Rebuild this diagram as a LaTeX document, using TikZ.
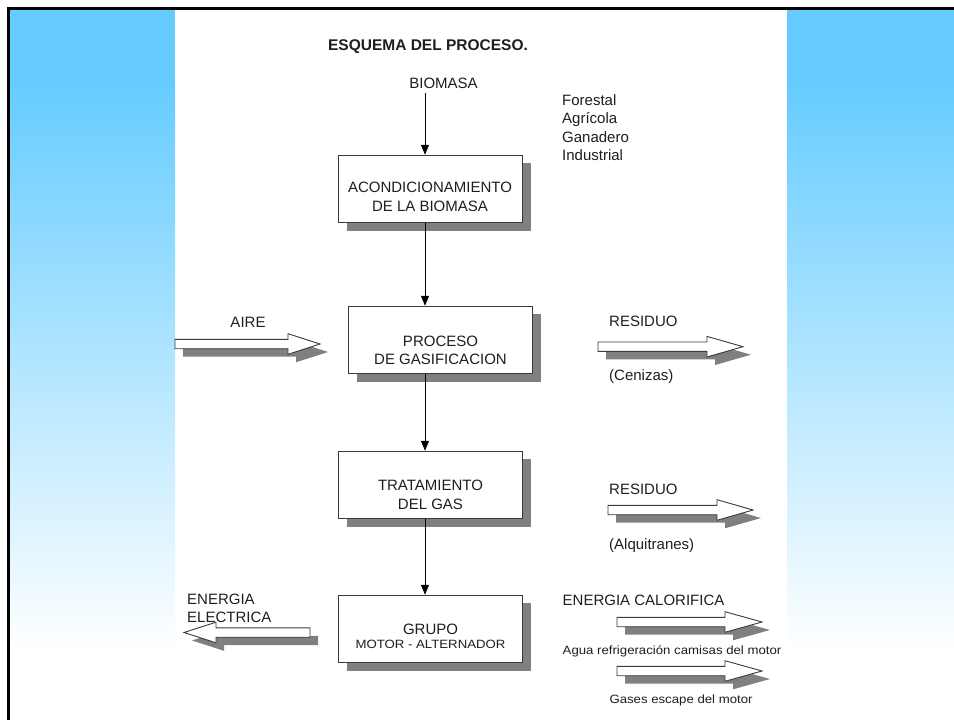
\documentclass[tikz,border=0pt]{standalone}
\usepackage{fontspec}
\setmainfont{Liberation Sans}
\newfontfamily\smallsf{Liberation Sans}[FakeStretch=1.1]
\usetikzlibrary{arrows.meta,shadows}
\definecolor{skyb}{HTML}{66CCFF}
\definecolor{shadowgray}{HTML}{808080}
\definecolor{edgegray}{HTML}{3A3A3A}
\definecolor{txt}{HTML}{1E1E1E}
\newcommand\blockpath[4]{(#1,#4-4.7) -- (#2,#4-4.7) -- (#2,#4-10.3) -- (#3,#4) -- (#2,#4+10.3) -- (#2,#4+4.7) -- (#1,#4+4.7) -- cycle}
\newcommand\blockarrow[4]{%
  \fill[blkshadow, shift={(8,8)}] \blockpath{#1}{#2}{#3}{#4};
  \draw[blkarrow] \blockpath{#1}{#2}{#3}{#4};}
\begin{document}
\begin{tikzpicture}[x=1pt,y=-1pt,
  procbox/.style={draw=edgegray, line width=1pt, fill=white, minimum width=184pt,
    minimum height=67.5pt, inner sep=0pt,
    drop shadow={shadow xshift=8pt, shadow yshift=-8pt, opacity=1, fill=shadowgray, draw=none}},
  lbl/.style={font=\fontsize{15}{18}\selectfont, text=txt, inner sep=0pt, anchor=base},
  lbll/.style={lbl, anchor=base west},
  sml/.style={font=\smallsf\fontsize{12}{14}\selectfont, text=txt, inner sep=0pt, anchor=base},
  smll/.style={sml, anchor=base west},
  conn/.style={draw=black, line width=0.9pt, -{Triangle[width=8pt,length=10pt]}},
  blkarrow/.style={draw=edgegray, line width=0.9pt, fill=white, line join=miter},
  blkshadow/.style={fill=shadowgray}
]
\useasboundingbox (0,0) rectangle (954,720);
% background side panels
\foreach \xa/\xb in {10/175, 787/954}{
  \fill[skyb] (\xa,9) rectangle (\xb,85);
  \shade[top color=skyb, bottom color=white] (\xa,85) rectangle (\xb,650.5);
}
% border
\draw[black, line width=2.5pt] (8.5,720) -- (8.5,8.5) -- (954,8.5);

% title and inputs
\node[lbl, font=\bfseries\fontsize{15.5}{18}\selectfont] (title) at (428,50.5) {ESQUEMA DEL PROCESO.};
\node[lbl] (bio) at (443.5,88.3) {BIOMASA};
\node[lbll] (f1) at (562,105) {Forestal};
\node[lbll] (f2) at (562,123.5) {Agrícola};
\node[lbll] (f3) at (562,142) {Ganadero};
\node[lbll] (f4) at (562,160.5) {Industrial};

% boxes
\node[procbox] (b1) at (430.5,189) {};
\node[procbox] (b2) at (440.5,340) {};
\node[procbox] (b3) at (430.5,485) {};
\node[procbox] (b4) at (430.5,629) {};

\node[lbl] (t1a) at (430,192.7) {ACONDICIONAMIENTO};
\node[lbl] (t1b) at (430,211) {DE LA BIOMASA};
\node[lbl] (t2a) at (440.5,346.7) {PROCESO};
\node[lbl] (t2b) at (440.5,364.3) {DE GASIFICACION};
\node[lbl] (t3a) at (430.5,490.7) {TRATAMIENTO};
\node[lbl] (t3b) at (430.5,509) {DEL GAS};
\node[lbl] (t4a) at (430.5,634) {GRUPO};
\node[sml] (t4b) at (430.5,648.3) {MOTOR - ALTERNADOR};

% connectors
\coordinate (ax) at (425,0);
\draw[conn, shorten <=4.5pt] (bio.south -| ax) -- (b1.north -| ax);
\draw[conn] (b1.south -| ax) -- (b2.north -| ax);
\draw[conn] (b2.south -| ax) -- (b3.north -| ax);
\draw[conn] (b3.south -| ax) -- (b4.north -| ax);

% block arrows
\blockarrow{175}{288}{320}{344}
\blockarrow{598}{707}{743}{346.7}
\blockarrow{608}{717}{753}{510}
\blockarrow{617}{725}{762}{622}
\blockarrow{617}{725}{762}{671}
\blockarrow{310}{216}{184}{632.5}

% side labels
\node[lbl] (aire) at (248,327.3) {AIRE};
\node[lbll] (r1) at (609,326.7) {RESIDUO};
\node[lbll] (r1b) at (609,380) {(Cenizas)};
\node[lbll] (r2) at (609,494) {RESIDUO};
\node[lbll] (r2b) at (609,549) {(Alquitranes)};
\node[lbll] (ee1) at (187,604) {ENERGIA};
\node[lbll] (ee2) at (187,622.3) {ELECTRICA};
\node[lbll] (ec) at (562.5,605) {ENERGIA CALORIFICA};
\node[smll] (ec1) at (562.5,654) {Agua refrigeración camisas del motor};
\node[smll] (ec2) at (609.3,703.3) {Gases escape del motor};
\end{tikzpicture}
\end{document}
